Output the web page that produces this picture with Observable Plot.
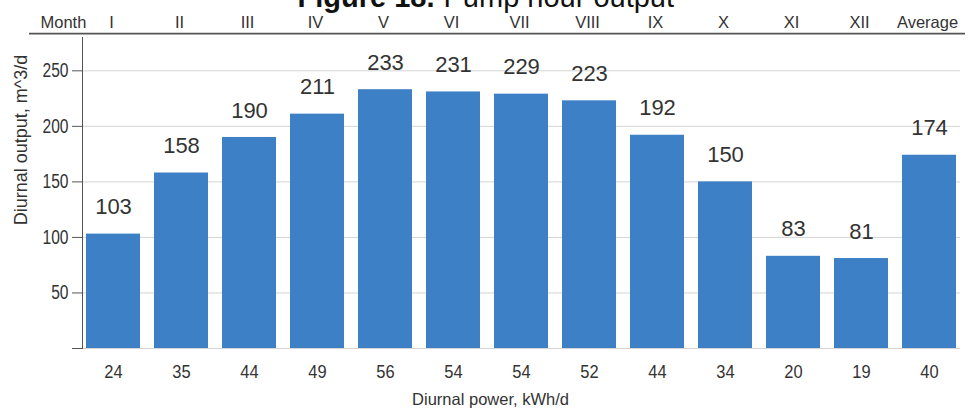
<!DOCTYPE html>
<html>
<head>
<meta charset="utf-8">
<script src="https://cdn.jsdelivr.net/npm/d3@7"></script>
<script src="https://cdn.jsdelivr.net/npm/@observablehq/plot@0.6"></script>
<style>
  body { margin: 0; background: #fff; }
</style>
</head>
<body>
<div id="chart"></div>
<script>
// Monthly pump output (m^3/d) and the daily energy (kWh/d) that drives it
const months = ["I", "II", "III", "IV", "V", "VI", "VII", "VIII", "IX", "X", "XI", "XII", "Average"];
const output = [103, 158, 190, 211, 233, 231, 229, 223, 192, 150, 83, 81, 174];
const power = [24, 35, 44, 49, 56, 54, 54, 52, 44, 34, 20, 19, 40];
const yTicks = [0, 50, 100, 150, 200, 250];

const rows = months.map((m, i) => ({month: m, output: output[i], power: power[i]}));
const powerByMonth = new Map(rows.map(d => [d.month, d.power]));

const sans = "'Liberation Sans', Arial, Helvetica, sans-serif";

// Dark rule separating the month header from the plot area
function headerRule(index, scales, values, dims) {
  const y = scales.y(283);
  return d3.create("svg:line")
    .attr("x1", dims.marginLeft - 53)
    .attr("x2", dims.width - dims.marginRight + 5)
    .attr("y1", y)
    .attr("y2", y)
    .attr("stroke", "#555")
    .attr("stroke-width", 1.6)
    .node();
}

// Squeeze glyphs horizontally about each label's anchor (narrow numeric style)
function condense(selection, sx, anchor) {
  selection.each(function () {
    const b = this.getBBox();
    const ax = anchor === "end" ? b.x + b.width : b.x + b.width / 2;
    const old = this.getAttribute("transform") || "";
    this.setAttribute("transform", `${old} translate(${ax},0) scale(${sx},1) translate(${-ax},0)`);
  });
}

const chart = Plot.plot({
  width: 975,
  height: 408,
  marginTop: 37,
  marginBottom: 60,
  marginLeft: 82,
  marginRight: 15,
  style: {fontFamily: sans, color: "#333", background: "#fff", overflow: "visible"},
  x: {domain: months, paddingInner: 0.2, paddingOuter: 0, axis: null},
  y: {domain: [0, 280], axis: null},
  marks: [
    Plot.gridY(yTicks, {stroke: "#d4d4d4", strokeOpacity: 1}),
    Plot.barY(rows, {x: "month", y: "output", fill: "#3e80c5"}),
    Plot.frame({anchor: "left", stroke: "#555"}),
    Plot.axisY({ticks: yTicks, tickSize: 10, tickPadding: 4, tickFormat: d => d === 0 ? "" : d,
      fontSize: 19.5, stroke: "#555", label: null}),
    Plot.text(rows, {x: "month", y: "output", text: "output", dy: -27, ariaLabel: "value label",
      fontSize: 22, fill: "#333"}),
    Plot.axisX({anchor: "bottom", tickSize: 0, tickPadding: 16, tickFormat: m => powerByMonth.get(m),
      fontSize: 18.5, label: null}),
    Plot.axisX({anchor: "top", tickSize: 0, tickPadding: 10, fontSize: 16.5, dx: -2, label: null}),
    headerRule,
    Plot.text(["Month"], {frameAnchor: "top-left", dx: -42, dy: -10, lineAnchor: "bottom",
      textAnchor: "start", fontSize: 16.5, fill: "#333"}),
    Plot.text(["Diurnal output, m^3/d"], {frameAnchor: "left", rotate: -90, dx: -61, dy: -53,
      textAnchor: "middle", lineAnchor: "middle", fontSize: 18, fill: "#333"}),
    Plot.text(["Diurnal power, kWh/d"], {frameAnchor: "bottom", dx: -31, dy: 51,
      textAnchor: "middle", lineAnchor: "middle", fontSize: 16.5, fill: "#333"}),
    Plot.text(["Figure 18."], {frameAnchor: "top-left", dx: 215, dy: -31, lineAnchor: "bottom",
      textAnchor: "start", fontSize: 29, fontWeight: "bold", fill: "#111"}),
    Plot.text(["Pump hour output"], {frameAnchor: "top-left", dx: 361, dy: -31, lineAnchor: "bottom",
      textAnchor: "start", fontSize: 29, fill: "#111"})
  ]
});

document.getElementById("chart").append(chart);

const svg = d3.select(chart);
condense(svg.selectAll('g[aria-label="value label"] text'), 0.72, "middle");
condense(svg.selectAll('g[aria-label="y-axis tick label"] text'), 0.8, "end");
// the first x tick-label group in the document is the bottom (power) axis
condense(d3.select(svg.selectAll('g[aria-label="x-axis tick label"]').node()).selectAll("text"), 0.89, "middle");
</script>
</body>
</html>
